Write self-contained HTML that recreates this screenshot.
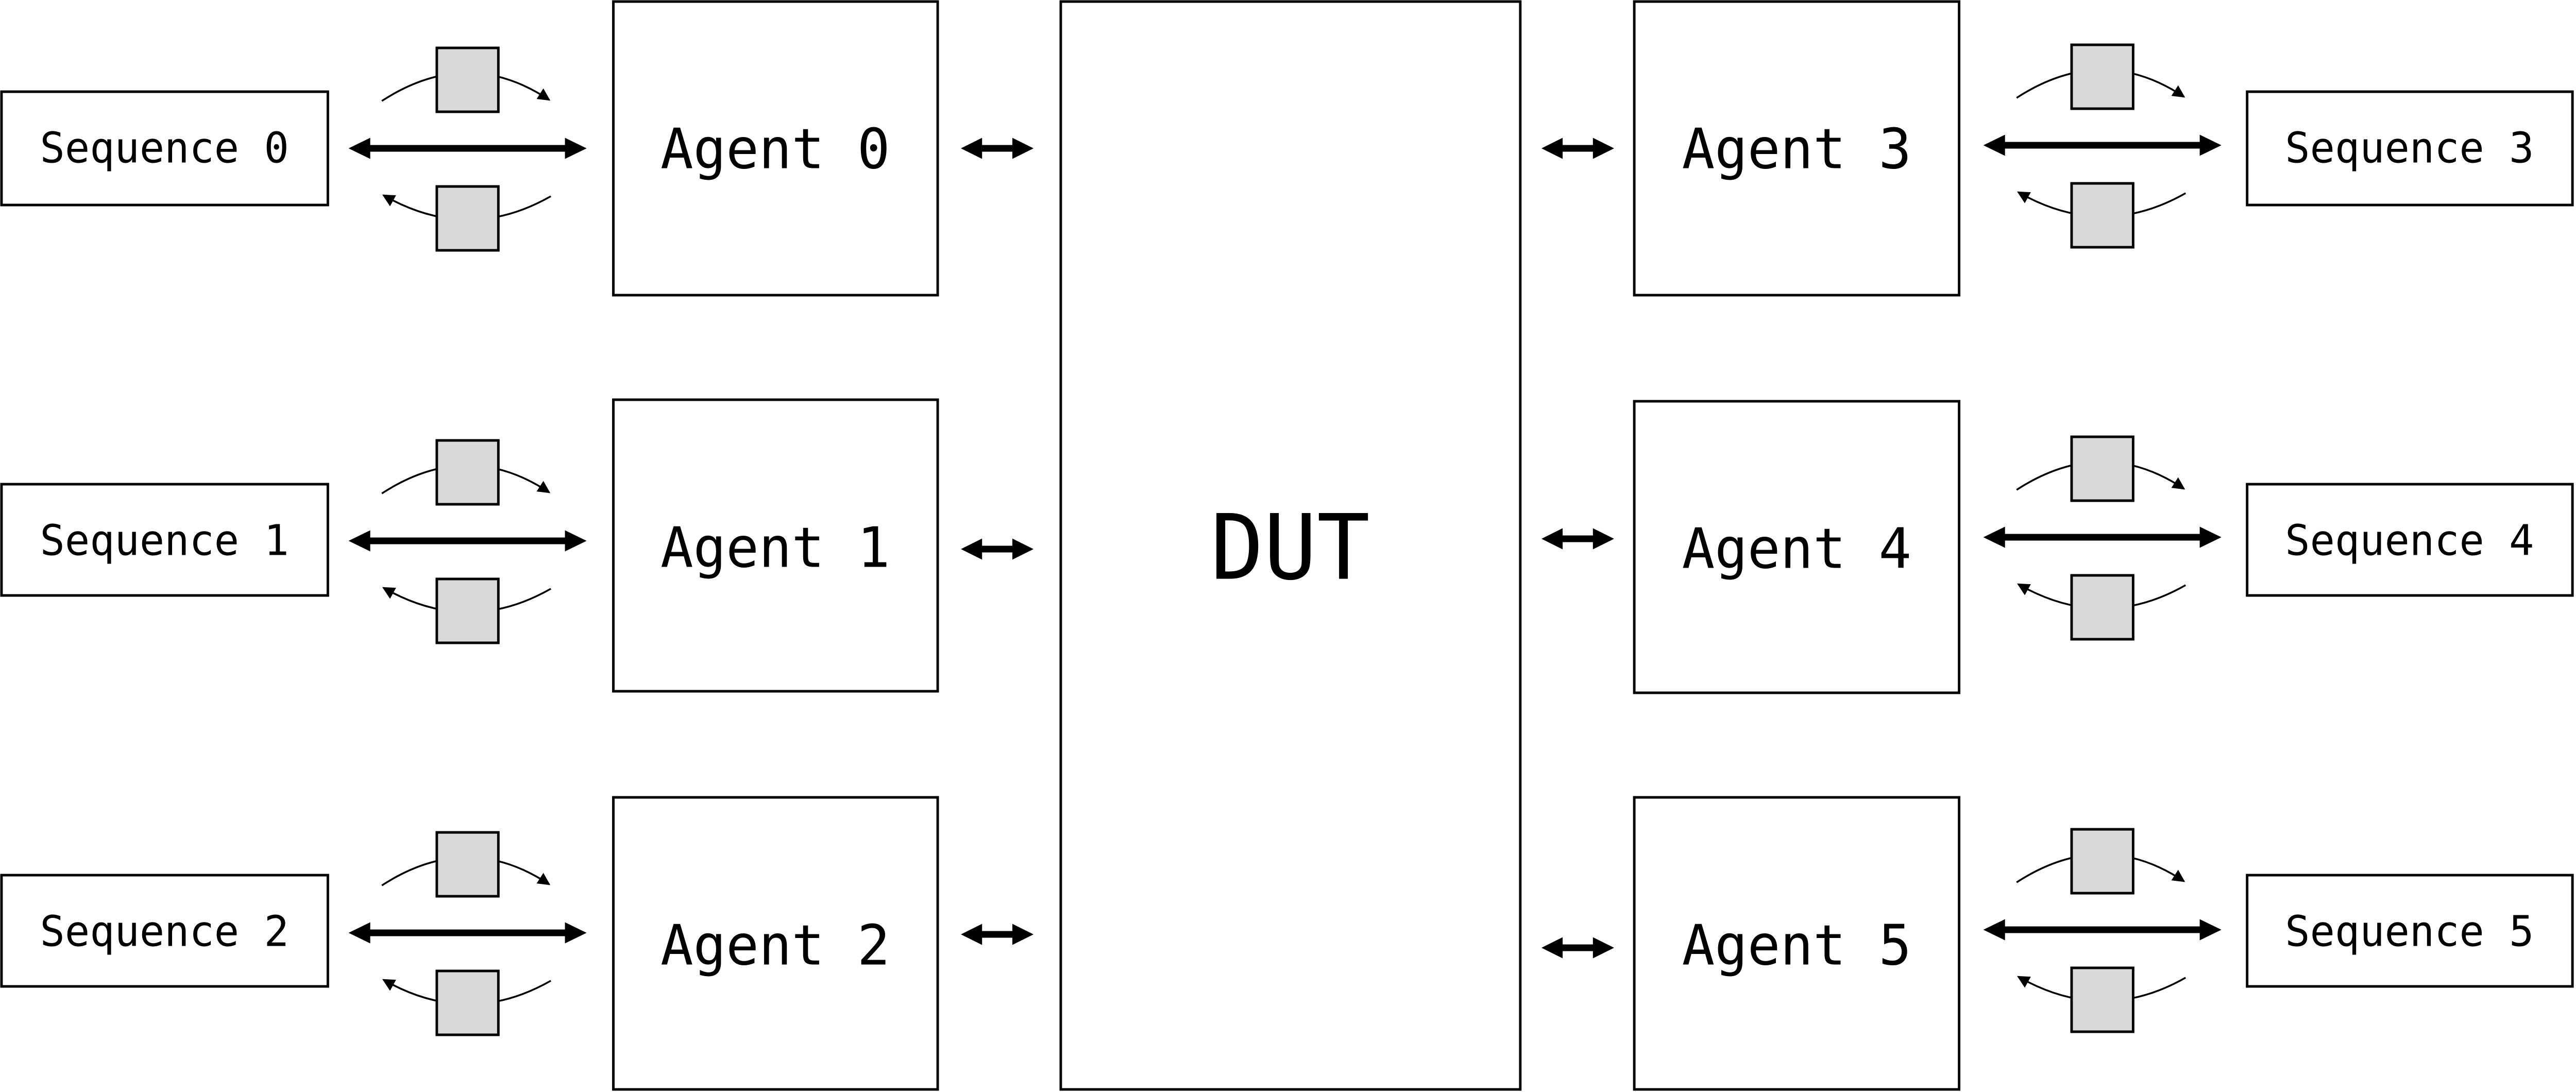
<!DOCTYPE html>
<html><head><meta charset="utf-8"><style>html,body{margin:0;padding:0;background:#fff;overflow:hidden}svg{display:block;width:100vw;height:100vh}</style></head>
<body>
<svg viewBox="0 0 5107 2120" preserveAspectRatio="none" xmlns="http://www.w3.org/2000/svg">
<defs>
<marker id="ah" viewBox="0 0 10 10" refX="9" refY="5" markerWidth="9" markerHeight="7" markerUnits="strokeWidth" orient="auto"><path d="M0,0 L10,5 L0,10 z" fill="#000"/></marker>
<g id="ch">
<polygon points="-236,0 -193,-20.5 -193,-6.5 193,-6.5 193,-20.5 236,0 193,20.5 193,6.5 -193,6.5 -193,20.5" fill="#000"/>
<path d="M -170 -92 Q 0 -200 162 -94" fill="none" stroke="#000" stroke-width="3.5" marker-end="url(#ah)"/>
<path d="M 165 93 Q 0 185 -167 91" fill="none" stroke="#000" stroke-width="3.5" marker-end="url(#ah)"/>
<rect x="-61" y="-195" width="122" height="124" fill="#d9d9d9" stroke="#000" stroke-width="5"/>
<rect x="-61" y="74" width="122" height="124" fill="#d9d9d9" stroke="#000" stroke-width="5"/>
</g>
<polygon id="sa" points="-72,0 -30,-20.5 -30,-6.5 30,-6.5 30,-20.5 72,0 30,20.5 30,6.5 -30,6.5 -30,20.5" fill="#000"/>
</defs>
<g fill="#fff" stroke="#000" stroke-width="5">
<rect x="3" y="178" width="647" height="220"/>
<rect x="3" y="940" width="647" height="216"/>
<rect x="3" y="1699" width="647" height="216"/>
<rect x="1216" y="3" width="643" height="570"/>
<rect x="1216" y="776" width="643" height="566"/>
<rect x="1216" y="1548" width="643" height="567"/>
<rect x="2103" y="3" width="911" height="2112"/>
<rect x="3240" y="3" width="644" height="570"/>
<rect x="3240" y="779" width="644" height="566"/>
<rect x="3240" y="1548" width="644" height="567"/>
<rect x="4455" y="178" width="645" height="220"/>
<rect x="4455" y="940" width="645" height="216"/>
<rect x="4455" y="1699" width="645" height="216"/>
</g>
<use href="#ch" transform="translate(927,288)"/>
<use href="#ch" transform="translate(927,1050)"/>
<use href="#ch" transform="translate(927,1811)"/>
<use href="#ch" transform="translate(4168,282)"/>
<use href="#ch" transform="translate(4168,1043)"/>
<use href="#ch" transform="translate(4168,1805)"/>
<use href="#sa" transform="translate(1977,288)"/>
<use href="#sa" transform="translate(1977,1066)"/>
<use href="#sa" transform="translate(1977,1814)"/>
<use href="#sa" transform="translate(3128,288)"/>
<use href="#sa" transform="translate(3128,1046)"/>
<use href="#sa" transform="translate(3128,1840)"/>
<g font-family="'DejaVu Sans Mono','Liberation Mono',monospace" text-anchor="middle" dominant-baseline="central" fill="#000">
<g font-size="82">
<text x="326" y="288">Sequence 0</text>
<text x="326" y="1050">Sequence 1</text>
<text x="326" y="1809">Sequence 2</text>
<text x="4777" y="288">Sequence 3</text>
<text x="4777" y="1050">Sequence 4</text>
<text x="4777" y="1809">Sequence 5</text>
</g>
<g font-size="108">
<text x="1537" y="290">Agent 0</text>
<text x="1537" y="1064">Agent 1</text>
<text x="1537" y="1836">Agent 2</text>
<text x="3562" y="290">Agent 3</text>
<text x="3562" y="1066">Agent 4</text>
<text x="3562" y="1836">Agent 5</text>
</g>
<text x="2558" y="1063" font-size="175">DUT</text>
</g>
</svg>
</body></html>
